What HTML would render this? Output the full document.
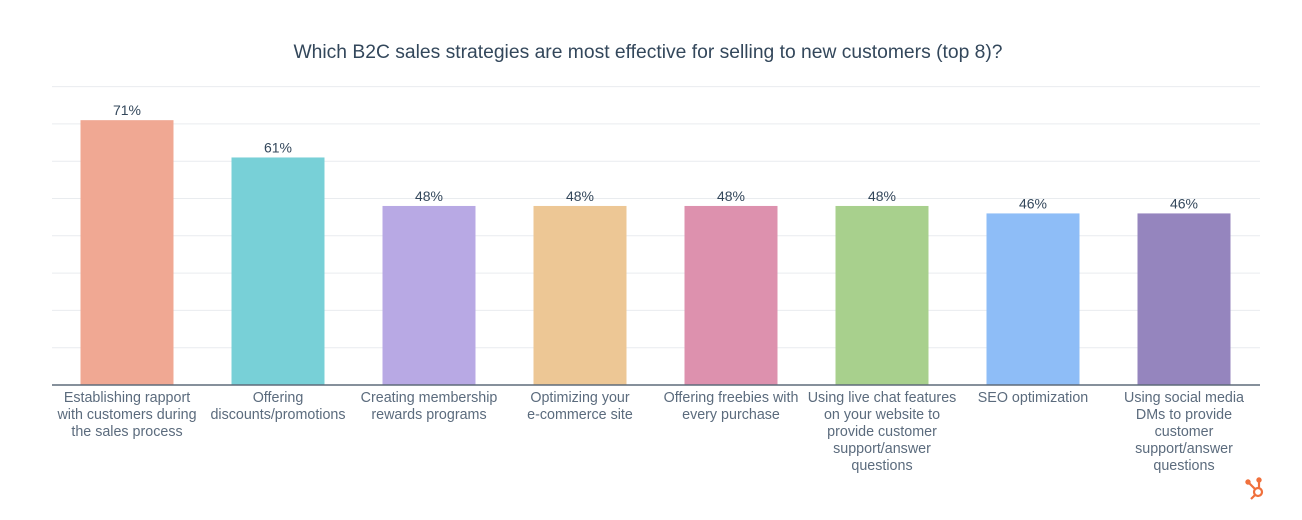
<!DOCTYPE html>
<html><head><meta charset="utf-8"><style>
html,body{margin:0;padding:0;background:#fff;}
svg{display:block;font-family:"Liberation Sans",sans-serif;}
</style></head><body>
<svg id="chart" width="1302" height="520" viewBox="0 0 1302 520">
<text x="648" y="58" text-anchor="middle" font-size="19.3" fill="#33475b">Which B2C sales strategies are most effective for selling to new customers (top 8)?</text>
<g id="grid"></g>
<g id="bars"></g>
<g id="labels"></g>
<line x1="52" y1="385" x2="1260" y2="385" stroke="#5f6b7a" stroke-width="1.5"/>
<g transform="translate(1258,492)" stroke="#f0703c" fill="none" stroke-width="2.2">
<circle cx="0" cy="0" r="4"/><line x1="-3" y1="-3" x2="-9" y2="-9"/><line x1="1" y1="-4" x2="1" y2="-11"/><line x1="-3" y1="3" x2="-7" y2="7"/>
<circle cx="-10" cy="-10" r="1.6" fill="#f0703c"/><circle cx="1" cy="-12" r="1.6" fill="#f0703c"/>
</g>
</svg>
<script>
const categories=[["Establishing rapport","with customers during","the sales process"],["Offering","discounts/promotions"],["Creating membership","rewards programs"],["Optimizing your","e-commerce site"],["Offering freebies with","every purchase"],["Using live chat features","on your website to","provide customer","support/answer","questions"],["SEO optimization"],["Using social media","DMs to provide","customer","support/answer","questions"]];
const values=[71,61,48,48,48,48,46,46];
const valueLabels=["71%","61%","48%","48%","48%","48%","46%","46%"];
const colors=["#f0a893","#78d0d7","#b8a9e4","#edc795","#dd91ae","#a8d08d","#8ebdf7","#9585be"];
const gridTicks=[10,20,30,40,50,60,70,80];
const NS="http://www.w3.org/2000/svg";
const x0=52,x1=1260,base=385,pxPer=3.73,barW=93;
const step=(x1-x0)/values.length;
const y=v=>base-v*pxPer;
const xc=i=>x0+step*(i+0.5)-0.5;
function mk(t,a){const e=document.createElementNS(NS,t);for(const k in a)e.setAttribute(k,a[k]);return e;}
const grid=document.getElementById('grid'),bars=document.getElementById('bars'),labels=document.getElementById('labels');
gridTicks.forEach(t=>{const l=mk('line',{x1:x0,x2:x1,y1:y(t),y2:y(t),stroke:'#e9ecef','stroke-width':1});


grid.appendChild(l);});
values.forEach((v,i)=>{
const r=mk('rect',{x:xc(i)-barW/2,y:y(v),width:barW,height:base-y(v),fill:colors[i]});


bars.appendChild(r);
const t=mk('text',{x:xc(i),y:y(v)-5,'text-anchor':'middle','font-size':14,fill:'#33475b'});t.textContent=valueLabels[i];


bars.appendChild(t);
categories[i].forEach((s,j)=>{const c=mk('text',{x:xc(i),y:402+j*17,'text-anchor':'middle','font-size':14.3,fill:'#5b6b7d'});c.textContent=s;


labels.appendChild(c);});
});
</script>
</body></html>
